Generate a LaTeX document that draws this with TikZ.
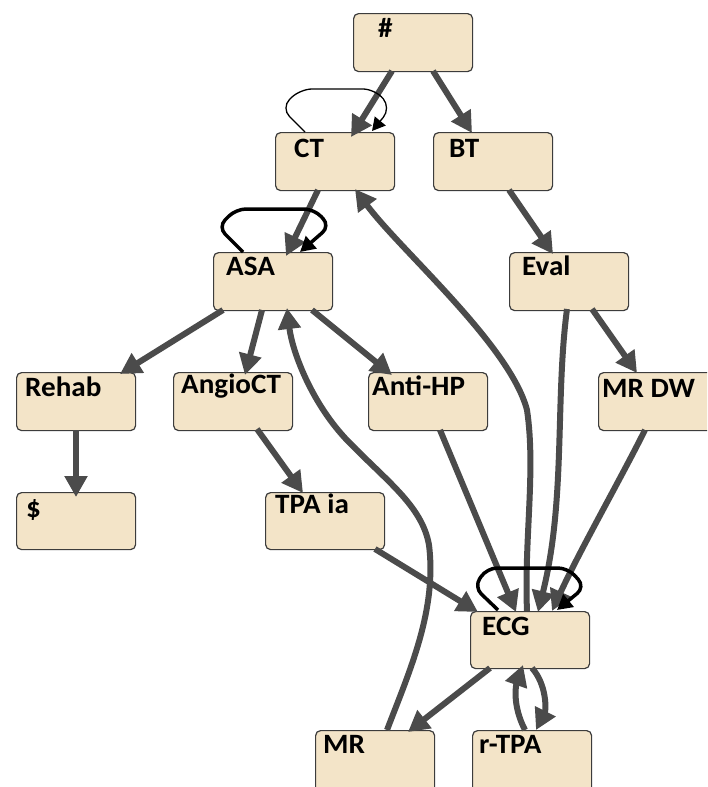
\documentclass[tikz,border=0pt]{standalone}
\usepackage{fontspec}
\setmainfont{Carlito}[FakeStretch=1.04]
\usetikzlibrary{arrows.meta}

\definecolor{boxfill}{HTML}{F3E4C8}
\definecolor{boxline}{HTML}{3C3C3C}
\definecolor{edgegray}{HTML}{4B4B4B}

\tikzset{
  stepbox/.style={draw=boxline, line width=1.2pt, fill=boxfill, rounded corners=5pt,
    minimum width=119pt, minimum height=58pt, anchor=north west, inner sep=0pt},
  boxtext/.style={anchor=base west, inner sep=0pt,
    font=\fontsize{28}{31}\selectfont\bfseries},
  edge/.style={draw=edgegray, line width=6pt, -{Triangle[length=21pt,width=22pt]}},
  loopthick/.style={draw=black, line width=3.5pt, rounded corners=10pt,
    -{Triangle[length=15pt,width=16pt]}},
  loopthin/.style={draw=black, line width=1.3pt, rounded corners=12pt,
    -{Triangle[length=13pt,width=14pt]}},
}

\begin{document}
\begin{tikzpicture}[x=1pt,y=-1pt]
\useasboundingbox (0,0) rectangle (707,787);
\clip (0,0) rectangle (707,787);
\fill[white] (0,0) rectangle (707,787);

% boxes
\node[stepbox] (hash)   at (353,13)  {};
\node[stepbox] (ct)     at (275,132) {};
\node[stepbox] (bt)     at (433,132) {};
\node[stepbox] (asa)    at (213,252) {};
\node[stepbox] (eval)   at (509,252) {};
\node[stepbox] (rehab)  at (16,372)  {};
\node[stepbox] (angio)  at (173,372) {};
\node[stepbox] (antihp) at (368,372) {};
\node[stepbox, minimum width=122pt] (mrdw) at (598,372) {};
\node[stepbox, minimum height=57pt] (dollar) at (16,492)  {};
\node[stepbox, minimum height=57pt] (tpaia)  at (265,492) {};
\node[stepbox, minimum height=57pt] (ecg)    at (470,611) {};
\node[stepbox, minimum height=70pt] (mr)     at (315,730) {};
\node[stepbox, minimum height=70pt] (rtpa)   at (472,730) {};

% labels
\node[boxtext] (hash-t)   at ([shift={(25,24)}]hash.north west)   {\#};
\node[boxtext] (ct-t)     at ([shift={(19,25)}]ct.north west)     {CT};
\node[boxtext] (bt-t)     at ([shift={(16,25)}]bt.north west)     {BT};
\node[boxtext] (asa-t)    at ([shift={(13,23)}]asa.north west)    {ASA};
\node[boxtext] (eval-t)   at ([shift={(13,23)}]eval.north west)   {Eval};
\node[boxtext] (rehab-t)  at ([shift={(9,24)}]rehab.north west)   {Rehab};
\node[boxtext] (angio-t)  at ([shift={(8,21)}]angio.north west)   {AngioCT};
\node[boxtext] (antihp-t) at ([shift={(4,23)}]antihp.north west)  {Anti-HP};
\node[boxtext] (mrdw-t)   at ([shift={(4,25)}]mrdw.north west)    {MR DW};
\node[boxtext] (dollar-t) at ([shift={(10,25)}]dollar.north west) {\$};
\node[boxtext] (tpaia-t)  at ([shift={(10,21)}]tpaia.north west)  {TPA ia};
\node[boxtext] (ecg-t)    at ([shift={(12,24)}]ecg.north west)    {ECG};
\node[boxtext] (mr-t)     at ([shift={(8,23)}]mr.north west)      {MR};
\node[boxtext] (rtpa-t)   at ([shift={(7,23)}]rtpa.north west)    {r-TPA};

% straight connectors
\draw[edge] ([shift={(39,58)}]hash.north west) -- ([shift={(76,5)}]ct.north west);
\draw[edge] ([shift={(80,58)}]hash.north west) -- ([shift={(39,1)}]bt.north west);
\draw[edge] ([shift={(43,58)}]ct.north west) -- ([shift={(73,4)}]asa.north west);
\draw[edge] ([shift={(76,58)}]bt.north west) -- ([shift={(44,2)}]eval.north west);
\draw[edge] ([shift={(10,58)}]asa.north west) -- ([shift={(104,2)}]rehab.north west);
\draw[edge] ([shift={(49,58)}]asa.north west) -- ([shift={(72,3)}]angio.north west);
\draw[edge] ([shift={(99,58)}]asa.north west) -- ([shift={(24,3)}]antihp.north west);
\draw[edge] ([shift={(83,57)}]eval.north west) -- ([shift={(39,1)}]mrdw.north west);
\draw[edge] ([shift={(72,58)}]antihp.north west) -- ([shift={(46,1)}]ecg.north west);
\draw[edge] ([shift={(84,57)}]angio.north west) -- ([shift={(38,1)}]tpaia.north west);
\draw[edge] ([shift={(60,58)}]rehab.north west) -- ([shift={(60,5)}]dollar.north west);
\draw[edge] ([shift={(110,57)}]tpaia.north west) -- ([shift={(8,1)}]ecg.north west);
\draw[edge] ([shift={(20,57)}]ecg.north west) -- ([shift={(93,2)}]mr.north west);

% curved connectors
\draw[edge] ([shift={(57,0)}]ecg.north west)
  .. controls (524,540) and (536,470) .. (527,410)
  .. controls (510,345) and (400,250) .. ([shift={(80,57)}]ct.north west);
\draw[edge] ([shift={(72,0)}]mr.north west)
  .. controls (410,670) and (437,610) .. (429,545)
  .. controls (422,505) and (385,480) .. (345,438)
  .. controls (310,400) and (292,350) .. ([shift={(74,56)}]asa.north west);
\draw[edge] ([shift={(58,57)}]eval.north west)
  .. controls (555,400) and (566,500) .. ([shift={(68,1)}]ecg.north west);
\draw[edge] ([shift={(47,58)}]mrdw.north west)
  .. controls (620,480) and (580,550) .. ([shift={(82,0)}]ecg.north west);
\draw[edge] ([shift={(53,0)}]rtpa.north west)
  .. controls (512,705) and (516,685) .. ([shift={(53,54)}]ecg.north west);
\draw[edge] ([shift={(62,57)}]ecg.north west)
  .. controls (547,685) and (546,710) .. ([shift={(64,0)}]rtpa.north west);

% self loops
\draw[loopthin] ([shift={(30,0)}]ct.north west) -- ([shift={(6,-24)}]ct.north west)
  -- ([shift={(25,-43)}]ct.north west) -- ([shift={(100,-43)}]ct.north west)
  -- ([shift={(116,-24)}]ct.north west) -- ([shift={(97,-1)}]ct.north west);
\draw[loopthick] ([shift={(30,0)}]asa.north west) -- ([shift={(5,-25)}]asa.north west)
  -- ([shift={(23,-43)}]asa.north west) -- ([shift={(101,-43)}]asa.north west)
  -- ([shift={(117,-26)}]asa.north west) -- ([shift={(87,0)}]asa.north west);
\draw[loopthick] ([shift={(28,-1)}]ecg.north west) -- ([shift={(4,-24)}]ecg.north west)
  -- ([shift={(17,-43)}]ecg.north west) -- ([shift={(98,-43)}]ecg.north west)
  -- ([shift={(115,-24)}]ecg.north west) -- ([shift={(87,-1)}]ecg.north west);
\end{tikzpicture}
\end{document}
